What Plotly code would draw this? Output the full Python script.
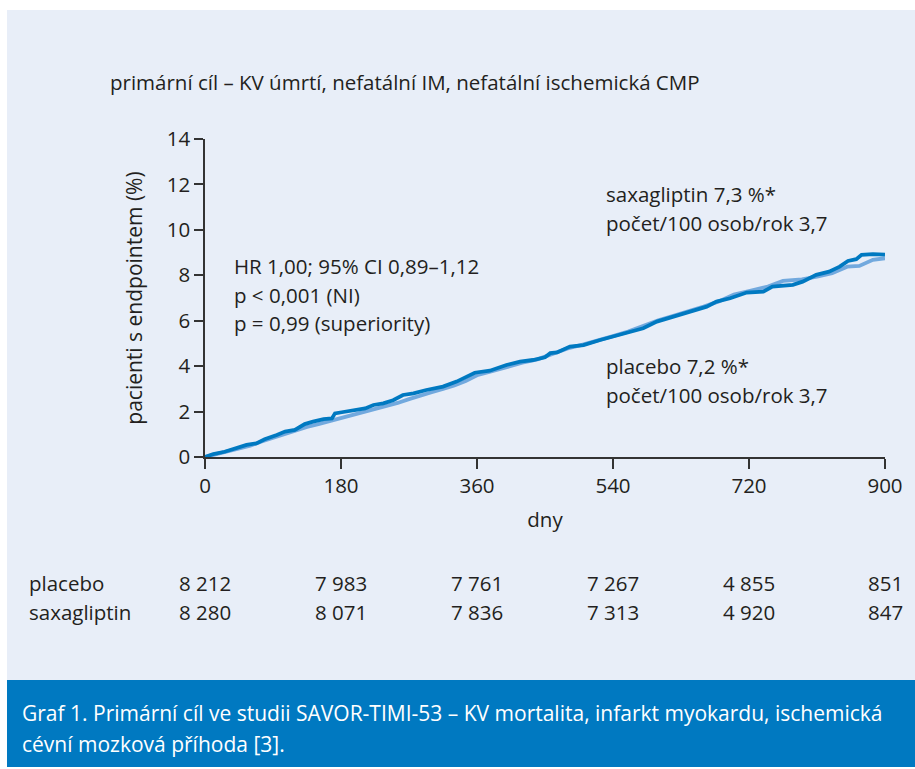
import plotly.graph_objects as go

# ---- data ----
sax_days = [0, 11, 26, 40, 55, 68, 79, 95, 106, 119, 132, 143, 157, 168, 172, 181, 196, 212, 223, 236,
            249, 262, 276, 293, 315, 333, 357, 377, 399, 417, 434, 450, 457, 466, 483, 501, 523, 540,
            556, 580, 598, 620, 642, 664, 677, 695, 717, 739, 751, 778, 791, 809, 826, 840, 851, 862,
            869, 884, 900]
sax_vals = [0, 0.13, 0.23, 0.38, 0.53, 0.6, 0.78, 0.97, 1.12, 1.19, 1.45, 1.56, 1.67, 1.7, 1.92, 1.97,
            2.07, 2.14, 2.29, 2.36, 2.5, 2.73, 2.8, 2.95, 3.1, 3.32, 3.71, 3.8, 4.05, 4.2, 4.27, 4.39,
            4.57, 4.6, 4.86, 4.93, 5.15, 5.3, 5.48, 5.67, 5.96, 6.18, 6.4, 6.62, 6.84, 6.99, 7.24, 7.28,
            7.5, 7.58, 7.72, 8.02, 8.16, 8.38, 8.63, 8.71, 8.9, 8.93, 8.91]

pla_days = [0, 15, 30, 45, 60, 75, 90, 105, 120, 135, 150, 165, 180, 195, 210, 225, 240, 255, 270, 285,
            300, 315, 330, 345, 360, 380, 400, 420, 440, 460, 480, 500, 520, 540, 560, 580, 600, 620,
            640, 660, 680, 700, 720, 745, 765, 790, 810, 830, 850, 866, 884, 900]
pla_vals = [0, 0.12, 0.22, 0.36, 0.5, 0.68, 0.85, 1.02, 1.18, 1.32, 1.45, 1.58, 1.72, 1.85, 1.98, 2.1,
            2.22, 2.38, 2.55, 2.72, 2.85, 3.0, 3.15, 3.35, 3.6, 3.78, 3.98, 4.15, 4.3, 4.52, 4.78, 4.95,
            5.12, 5.32, 5.52, 5.78, 6.02, 6.22, 6.4, 6.62, 6.85, 7.15, 7.3, 7.5, 7.75, 7.82, 7.94, 8.09,
            8.38, 8.41, 8.68, 8.75]

x_ticks = [0, 180, 360, 540, 720, 900]
y_ticks = [0, 2, 4, 6, 8, 10, 12, 14]
risk_placebo = ["8 212", "7 983", "7 761", "7 267", "4 855", "851"]
risk_saxa = ["8 280", "8 071", "7 836", "7 313", "4 920", "847"]

# ---- layout helpers (pixel -> paper) ----
W, H = 915, 769
L, R, T, B = 205, 885, 139, 457
def px(x):
    return (x - L) / (R - L)
def py(y):
    return (B - y) / (B - T)

FONT = "Open Sans"
TXT = "#231f20"
BG = "#e8eef8"
BLUE = "#0079c1"
LIGHT = "#72a9de"
FS = 20.5

fig = go.Figure()
fig.add_trace(go.Scatter(x=pla_days, y=pla_vals, mode="lines", name="placebo",
                         line=dict(color=LIGHT, width=3.8), showlegend=False))
fig.add_trace(go.Scatter(x=sax_days, y=sax_vals, mode="lines", name="saxagliptin",
                         line=dict(color=BLUE, width=3.8), showlegend=False))

shapes = [
    dict(type="rect", xref="paper", yref="paper", x0=px(7), x1=px(915), y0=py(680), y1=py(10),
         fillcolor=BG, line=dict(width=0), layer="below"),
    dict(type="rect", xref="paper", yref="paper", x0=px(7), x1=px(915), y0=py(767), y1=py(680),
         fillcolor=BLUE, line=dict(width=0), layer="below"),
]

ann = []
def text(x, y, s, size=FS, color=TXT, xanchor="left", yanchor="middle"):
    ann.append(dict(x=px(x), y=py(y), xref="paper", yref="paper", text=s, showarrow=False,
                    xanchor=xanchor, yanchor=yanchor, align="left",
                    font=dict(family=FONT, size=size, color=color)))

text(108, 82, "primární cíl – KV úmrtí, nefatální IM, nefatální ischemická CMP")
text(232, 266, "HR 1,00; 95% CI 0,89–1,12")
text(232, 295, "p < 0,001 (NI)")
text(232, 323, "p = 0,99 (superiority)")
text(604, 194, "saxagliptin 7,3 %*")
text(604, 223, "počet/100 osob/rok 3,7")
text(604, 366, "placebo 7,2 %*")
text(604, 395, "počet/100 osob/rok 3,7")
text(27, 583, "placebo")
text(27, 612, "saxagliptin")
for i, (a, b) in enumerate(zip(risk_placebo, risk_saxa)):
    xp = L + (R - L) * x_ticks[i] / 900
    if i == len(x_ticks) - 1:
        text(905, 583, a, xanchor="right")
        text(905, 612, b, xanchor="right")
    else:
        text(xp, 583, a, xanchor="center")
        text(xp, 612, b, xanchor="center")
text(20, 713, "Graf 1. Primární cíl ve studii SAVOR-TIMI-53 – KV mortalita, infarkt myokardu, ischemická",
     size=21, color="white")
text(20, 744, "cévní mozková příhoda [3].", size=21, color="white")

fig.update_layout(
    width=W, height=H,
    margin=dict(l=L, r=W - R, t=T, b=H - B, pad=0),
    paper_bgcolor="white", plot_bgcolor=BG,
    shapes=shapes, annotations=ann,
    font=dict(family=FONT, size=FS, color=TXT),
    xaxis=dict(range=[0, 900], tickvals=x_ticks, ticks="outside", ticklen=10, tickwidth=1.5,
               tickcolor="#333", showline=True, linecolor="#333", linewidth=1.5, showgrid=False,
               zeroline=False, tickfont=dict(size=20.5, color=TXT),
               title=dict(text="dny", font=dict(size=20.5, color=TXT), standoff=14)),
    yaxis=dict(range=[0, 14], tickvals=y_ticks, ticks="outside", ticklen=9, tickwidth=1.5,
               tickcolor="#333", showline=True, linecolor="#333", linewidth=1.5, showgrid=False,
               zeroline=False, tickfont=dict(size=20.5, color=TXT),
               title=dict(text="pacienti s endpointem (%)", font=dict(size=21, color=TXT), standoff=18)),
)

fig.write_html("out.html", post_script="document.body.style.margin='0';",
               config={"displayModeBar": False})
